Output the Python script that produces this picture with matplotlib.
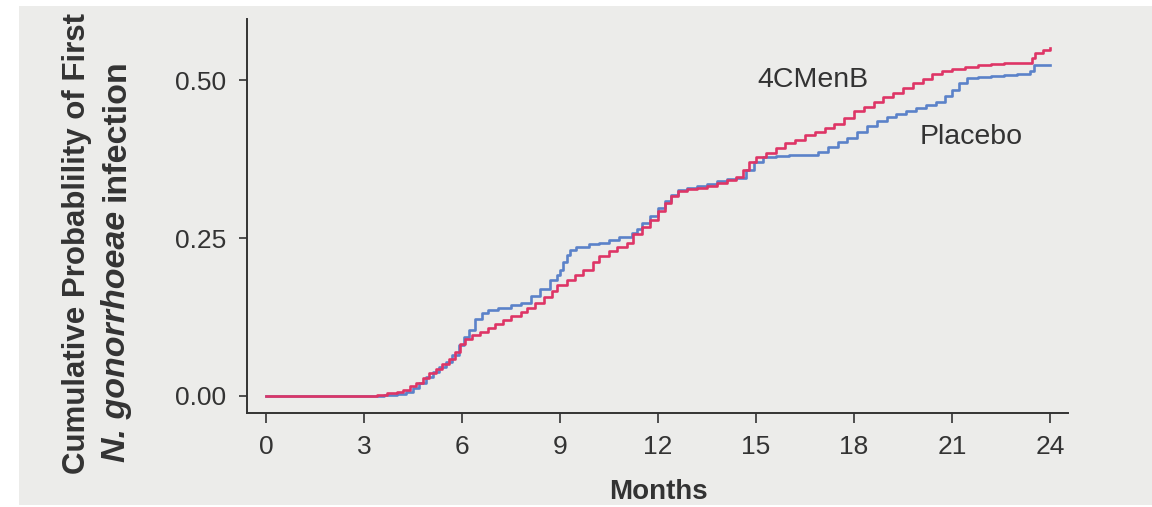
import matplotlib
matplotlib.use("Agg")
import matplotlib.pyplot as plt
from matplotlib.patches import Rectangle

plt.rcParams['font.family'] = ['Liberation Sans', 'DejaVu Sans']

# Kaplan-Meier style cumulative incidence
menb_months = [0, 3.4, 3.7, 4.0, 4.2, 4.4, 4.6, 4.8, 5.0, 5.2, 5.4, 5.6, 5.8, 5.95,
               6.1, 6.3, 6.55, 6.8, 7.0, 7.25, 7.5, 7.8, 8.0, 8.25, 8.5, 8.75, 8.9,
               9.2, 9.45, 9.7, 10.0, 10.2, 10.5, 10.75, 11.05, 11.25, 11.5, 11.75,
               12.0, 12.2, 12.4, 12.6, 12.9, 13.2, 13.5, 13.8, 14.1, 14.4, 14.6,
               14.8, 15.0, 15.3, 15.6, 15.9, 16.2, 16.5, 16.8, 17.1, 17.4, 17.7,
               18.0, 18.3, 18.6, 18.9, 19.2, 19.5, 19.8, 20.1, 20.4, 20.7, 21.0,
               21.4, 21.8, 22.2, 22.6, 23.0, 23.45, 23.55, 23.8, 24.0]
menb_prob = [0, 0.002, 0.004, 0.006, 0.010, 0.015, 0.020, 0.028, 0.036, 0.042,
             0.050, 0.058, 0.070, 0.082, 0.090, 0.096, 0.101, 0.108, 0.114,
             0.120, 0.126, 0.133, 0.140, 0.148, 0.156, 0.166, 0.176, 0.183,
             0.192, 0.200, 0.212, 0.222, 0.230, 0.236, 0.242, 0.256, 0.268,
             0.278, 0.293, 0.305, 0.316, 0.325, 0.327, 0.329, 0.333, 0.338,
             0.342, 0.347, 0.358, 0.370, 0.378, 0.385, 0.392, 0.400, 0.406,
             0.413, 0.418, 0.425, 0.430, 0.440, 0.452, 0.458, 0.466, 0.473,
             0.480, 0.488, 0.495, 0.502, 0.510, 0.514, 0.518, 0.521, 0.524,
             0.526, 0.527, 0.528, 0.535, 0.543, 0.548, 0.551]

placebo_months = [0, 3.6, 4.0, 4.3, 4.5, 4.7, 4.9, 5.1, 5.3, 5.5, 5.7, 5.9, 6.05,
                  6.2, 6.4, 6.6, 6.8, 7.1, 7.5, 7.8, 8.1, 8.4, 8.7, 8.9, 9.0, 9.1,
                  9.2, 9.3, 9.5, 9.9, 10.2, 10.5, 10.8, 11.2, 11.35, 11.5, 11.75,
                  12.0, 12.2, 12.4, 12.6, 12.9, 13.2, 13.5, 13.8, 14.1, 14.4, 14.7,
                  14.95, 15.2, 15.6, 16.0, 16.4, 16.9, 17.2, 17.5, 17.8, 18.1, 18.4,
                  18.7, 19.0, 19.3, 19.6, 19.9, 20.2, 20.5, 20.8, 21.0, 21.2, 21.45,
                  21.8, 22.2, 22.6, 23.0, 23.4, 23.5, 24.0]
placebo_prob = [0, 0.001, 0.003, 0.006, 0.012, 0.020, 0.030, 0.038, 0.046, 0.054,
                0.065, 0.080, 0.093, 0.105, 0.122, 0.132, 0.136, 0.140, 0.144,
                0.148, 0.158, 0.170, 0.183, 0.192, 0.200, 0.212, 0.224, 0.231,
                0.236, 0.240, 0.243, 0.247, 0.251, 0.258, 0.265, 0.274, 0.285,
                0.297, 0.309, 0.319, 0.326, 0.329, 0.332, 0.336, 0.340, 0.343,
                0.345, 0.358, 0.370, 0.378, 0.380, 0.381, 0.382, 0.386, 0.395,
                0.402, 0.408, 0.418, 0.428, 0.436, 0.442, 0.447, 0.452, 0.456,
                0.461, 0.466, 0.475, 0.485, 0.495, 0.503, 0.505, 0.506, 0.508,
                0.510, 0.514, 0.524, 0.524]

x_ticks = [0, 3, 6, 9, 12, 15, 18, 21, 24]
y_ticks = [0.0, 0.25, 0.50]
y_tick_labels = ['0.00', '0.25', '0.50']

red = '#de3566'
blue = '#5b82c9'
grey_bg = '#ececea'
ink = '#333333'

fig = plt.figure(figsize=(11.52, 5.07), dpi=100, facecolor='white')
fig.patches.append(Rectangle((19 / 1152, 2 / 507), 1, 499 / 507,
                             transform=fig.transFigure, facecolor=grey_bg,
                             edgecolor='none', zorder=-10))

ax = fig.add_axes([247 / 1152, 94 / 507, 821 / 1152, 394 / 507])
ax.set_facecolor('none')

ax.plot(placebo_months, placebo_prob, drawstyle='steps-post', color=blue, lw=1.9)
ax.plot(menb_months, menb_prob, drawstyle='steps-post', color=red, lw=1.9)

ax.set_xlim(-0.58, 24.55)
ax.set_ylim(-0.027, 0.597)

for side in ['top', 'right']:
    ax.spines[side].set_visible(False)
for side in ['left', 'bottom']:
    ax.spines[side].set_color(ink)
    ax.spines[side].set_linewidth(1.4)

ax.set_xticks(x_ticks)
ax.set_yticks(y_ticks)
ax.set_yticklabels(y_tick_labels)
ax.tick_params(axis='y', length=6, width=1.2, color=ink, labelsize=19,
               labelcolor=ink, pad=9)
ax.tick_params(axis='x', length=7.5, width=1.2, color=ink, labelsize=19,
               labelcolor=ink, pad=8)

ax.text(15.03, 0.50, '4CMenB', fontsize=20.5, color=ink, va='center', ha='left')
ax.text(20.02, 0.41, 'Placebo', fontsize=20.5, color=ink, va='center', ha='left')

fig.text(658 / 1152, 15 / 507, 'Months', fontsize=20, fontweight='bold',
         color=ink, ha='center', va='center')

# y label, two lines, second with italic species name
fig.text(77 / 1152, 264 / 507, 'Cumulative Probablility of First', rotation=90,
         fontsize=22.5, fontweight='bold', color=ink, ha='center', va='center')
part1 = fig.text(116 / 1152, 45 / 507, 'N. gonorrhoeae', rotation=90,
                 fontsize=24.5, fontweight='bold', fontstyle='italic',
                 color=ink, ha='center', va='bottom')
ax.annotate('infection', xy=(0.5, 1.0), xycoords=part1, xytext=(0, 7),
            textcoords='offset points', rotation=90, fontsize=24.5,
            fontweight='bold', color=ink, ha='center', va='bottom',
            annotation_clip=False)

fig.savefig('out.png', dpi=100, facecolor=fig.get_facecolor())
